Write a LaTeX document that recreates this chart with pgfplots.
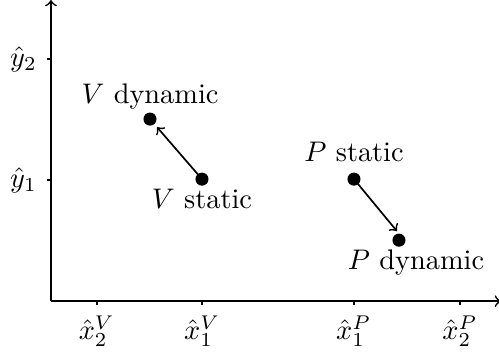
\documentclass[border=0pt]{standalone}
\usepackage{pgfplots}
\pgfplotsset{compat=1.18}
\begin{document}
\begin{tikzpicture}
\begin{axis}[
  name=ax,
  scale only axis,
  width=158.8pt, height=106.3pt,
  xmin=0, xmax=450, ymin=0, ymax=301,
  axis lines=left,
  axis line style={semithick, ->},
  tick align=outside,
  major tick length=1.5pt,
  tick style={semithick, black},
  xtick={45.7,151,302.7,409},
  xticklabels={$\hat{x}_2^V$, $\hat{x}_1^V$, $\hat{x}_1^P$, $\hat{x}_2^P$},
  ytick={121,241.7},
  yticklabels={$\hat{y}_1$, $\hat{y}_2$},
  clip=false,
]
% arrows static -> dynamic
\addplot[semithick, ->, no markers] coordinates {(151,122) (106,174)};
\addplot[semithick, ->, no markers] coordinates {(303,122) (346,70)};
% points
\addplot[only marks, mark=*, mark size=2.1pt, black] coordinates {(99,182)}
  node[above] {$V$ dynamic};
\addplot[only marks, mark=*, mark size=2.1pt, black] coordinates {(151,122)}
  node[below] {$V$ static};
\addplot[only marks, mark=*, mark size=2.1pt, black] coordinates {(303,122)}
  node[above, yshift=2.5pt] {$P$ static};
\addplot[only marks, mark=*, mark size=2.1pt, black] coordinates {(348,61)}
  node[below, xshift=6pt] {$P$ dynamic};
\end{axis}
\pgfresetboundingbox
\path[use as bounding box] ([xshift=-18pt, yshift=-19.4pt]ax.south west) rectangle ([xshift=-0.7pt]ax.north east);
\end{tikzpicture}
\end{document}
